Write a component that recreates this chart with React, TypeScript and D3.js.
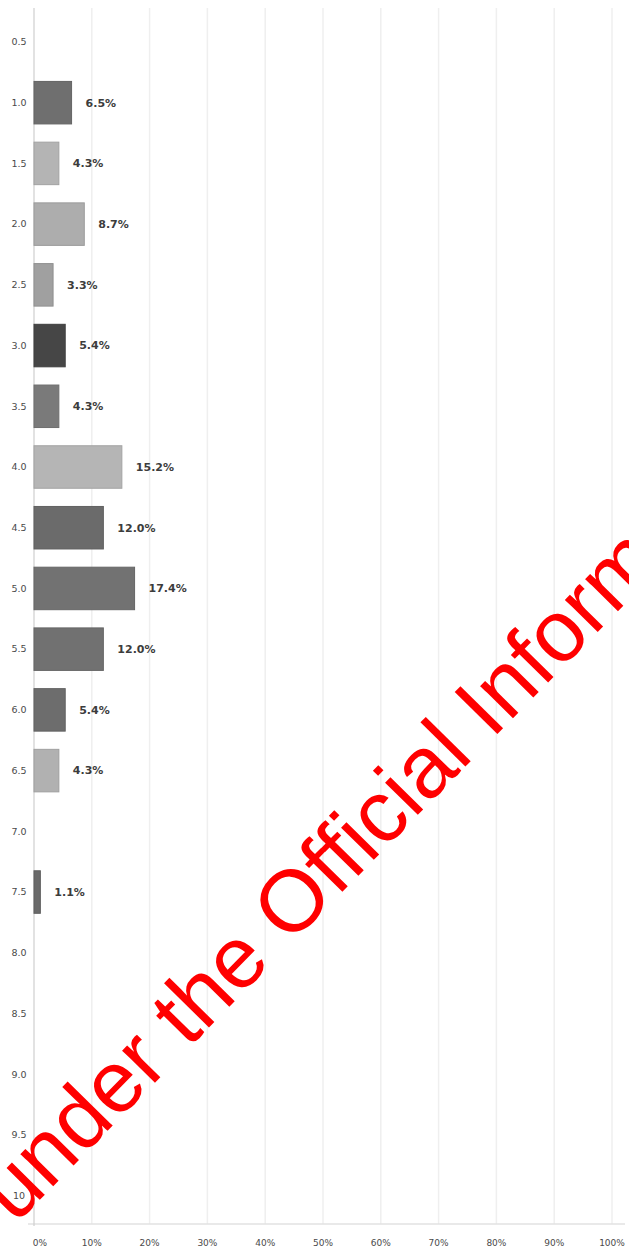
import { useEffect, useRef } from "react";
import * as d3 from "d3";

const categories = [
  "0.5", "1.0", "1.5", "2.0", "2.5", "3.0", "3.5", "4.0", "4.5", "5.0",
  "5.5", "6.0", "6.5", "7.0", "7.5", "8.0", "8.5", "9.0", "9.5", "10",
];
const shares = [
  0, 6.5, 4.3, 8.7, 3.3, 5.4, 4.3, 15.2, 12.0, 17.4,
  12.0, 5.4, 4.3, 0, 1.1, 0, 0, 0, 0, 0,
];
const barColors = [
  "#8a8a8a", "#6f6f6f", "#b4b4b4", "#adadad", "#a0a0a0", "#464646", "#7a7a7a",
  "#b5b5b5", "#6b6b6b", "#727272", "#717171", "#6d6d6d", "#b1b1b1", "#8a8a8a",
  "#6a6a6a", "#8a8a8a", "#8a8a8a", "#8a8a8a", "#8a8a8a", "#8a8a8a",
];
const xTicks = [0, 10, 20, 30, 40, 50, 60, 70, 80, 90, 100];
const watermark = "under the Official Information Act";

export default function App() {
  const svgRef = useRef<SVGSVGElement>(null);

  useEffect(() => {
    document.body.style.margin = "0";
    if (!svgRef.current) return;

    const width = 629;
    const height = 1254;
    const svg = d3.select(svgRef.current);
    svg.selectAll("*").remove();
    svg.attr("width", width).attr("height", height).style("display", "block");

    svg.append("rect").attr("width", width).attr("height", height).attr("fill", "#fff");

    const x = d3.scaleLinear().domain([0, 100]).range([34, 612]);
    const y = d3
      .scaleBand<string>()
      .domain(categories)
      .range([11.6, 1226])
      .paddingInner(0.3)
      .paddingOuter(0.15);

    const data = categories.map((c, i) => ({ cat: c, value: shares[i], color: barColors[i] }));

    // grid
    svg
      .append("g")
      .selectAll("line")
      .data(xTicks.slice(1))
      .join("line")
      .attr("x1", (d) => x(d))
      .attr("x2", (d) => x(d))
      .attr("y1", 8)
      .attr("y2", 1224)
      .attr("stroke", "#efefef")
      .attr("stroke-width", 1.5);

    svg
      .append("line")
      .attr("x1", 28)
      .attr("x2", 625)
      .attr("y1", 1224)
      .attr("y2", 1224)
      .attr("stroke", "#e2e2e2")
      .attr("stroke-width", 1.5);

    svg
      .append("line")
      .attr("x1", x(0))
      .attr("x2", x(0))
      .attr("y1", 8)
      .attr("y2", 1226)
      .attr("stroke", "#cfcfcf")
      .attr("stroke-width", 1.2);

    // bars
    svg
      .append("g")
      .selectAll("rect")
      .data(data.filter((d) => d.value > 0))
      .join("rect")
      .attr("x", x(0))
      .attr("y", (d) => y(d.cat)!)
      .attr("width", (d) => x(d.value) - x(0))
      .attr("height", y.bandwidth())
      .attr("fill", (d) => d.color)
      .attr("stroke", (d) => d3.color(d.color)!.darker(0.3).toString())
      .attr("stroke-width", 1);

    // value labels
    svg
      .append("g")
      .selectAll("text")
      .data(data.filter((d) => d.value > 0))
      .join("text")
      .attr("x", (d) => x(d.value) + 14)
      .attr("y", (d) => y(d.cat)! + y.bandwidth() / 2)
      .attr("dy", "0.35em")
      .attr("font-family", "DejaVu Sans, sans-serif")
      .attr("font-size", 11)
      .attr("font-weight", "bold")
      .attr("fill", "#3c3c3c")
      .text((d) => `${d.value.toFixed(1)}%`);

    // y labels
    svg
      .append("g")
      .selectAll("text")
      .data(categories)
      .join("text")
      .attr("x", 19)
      .attr("y", (d) => y(d)! + y.bandwidth() / 2)
      .attr("dy", "0.35em")
      .attr("text-anchor", "middle")
      .attr("font-family", "DejaVu Sans, sans-serif")
      .attr("font-size", 9.5)
      .attr("fill", "#4a4a4a")
      .text((d) => d);

    // x labels
    svg
      .append("g")
      .selectAll("text")
      .data(xTicks)
      .join("text")
      .attr("x", (d) => (d === 0 ? x(d) + 6 : x(d)))
      .attr("y", 1246)
      .attr("text-anchor", "middle")
      .attr("font-family", "DejaVu Sans, sans-serif")
      .attr("font-size", 9)
      .attr("fill", "#4a4a4a")
      .text((d) => `${d}%`);

    // watermark stamped across the page
    svg
      .append("text")
      .attr("transform", "translate(15,1225) rotate(-45.5)")
      .attr("font-family", "Liberation Sans, Arial, sans-serif")
      .attr("font-size", 87)
      .attr("fill", "#ff0000")
      .text(watermark);
  }, []);

  return <svg ref={svgRef} />;
}
